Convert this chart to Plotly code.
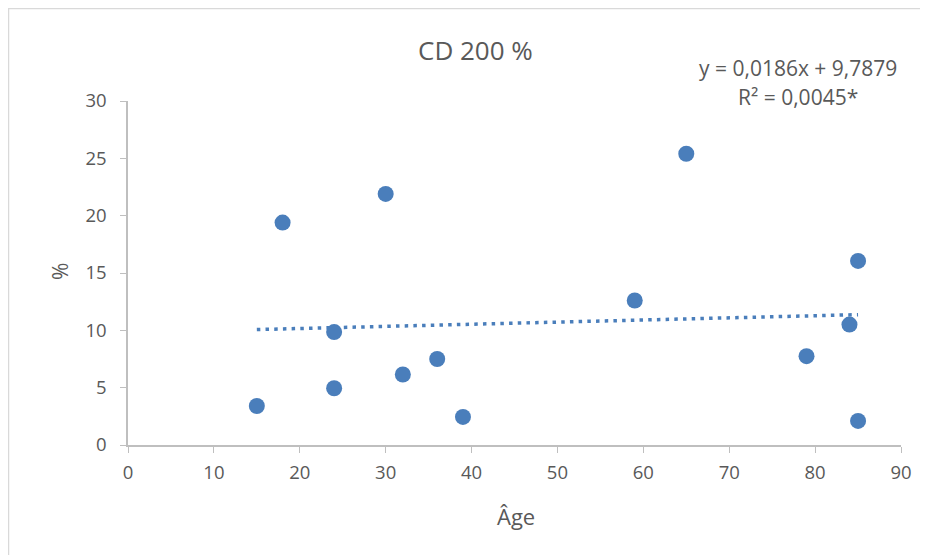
import plotly.graph_objects as go

ages = [15, 18, 24, 24, 30, 32, 36, 39, 59, 65, 79, 84, 85, 85]
pct = [3.4, 19.4, 9.85, 4.95, 21.9, 6.15, 7.5, 2.45, 12.6, 25.4, 7.75, 10.5, 16.05, 2.1]
slope = 0.0186
intercept = 9.7879
trend_x = [15, 85]
trend_y = [slope * x + intercept for x in trend_x]

x_ticks = list(range(0, 91, 10))
y_ticks = list(range(0, 31, 5))

FONT = "Open Sans"
GREY = "#595959"
BLUE = "#4a7ebb"

fig = go.Figure()
fig.add_trace(go.Scatter(x=trend_x, y=trend_y, mode="lines",
                         line=dict(color=BLUE, width=3.5, dash="3.5px,5.2px"),
                         hoverinfo="skip", showlegend=False))
fig.add_trace(go.Scatter(x=ages, y=pct, mode="markers",
                         marker=dict(color=BLUE, size=16, line=dict(width=0)),
                         showlegend=False))

W, H = 928, 555
OFF = 8  # page body margin
L, R, T, B = 128 - OFF, 35, 101 - OFF, 555 - (445 - OFF)
pw, ph = W - L - R, H - T - B

def px(xs):
    return (xs - OFF - L) / pw

def py(ys):
    return (H - B - (ys - OFF)) / ph

fig.update_layout(
    width=W, height=H,
    margin=dict(l=L, r=R, t=T, b=B),
    paper_bgcolor="white", plot_bgcolor="white",
    font=dict(family=FONT, color=GREY, size=18),
    xaxis=dict(range=[0, 90], tickvals=x_ticks, showgrid=False, zeroline=False,
               showline=True, linecolor="#bfbfbf", linewidth=1.5,
               ticks="outside", ticklen=6, tickcolor="#bfbfbf",
               ticklabelstandoff=4,
               tickfont=dict(size=18.5, color=GREY)),
    yaxis=dict(range=[0, 30], tickvals=y_ticks, showgrid=False, zeroline=False,
               showline=True, linecolor="#bfbfbf", linewidth=1.5,
               ticks="outside", ticklen=6, tickcolor="#bfbfbf",
               ticklabelstandoff=10,
               tickfont=dict(size=18.5, color=GREY)),
    shapes=[dict(type="rect", xref="paper", yref="paper",
                 x0=px(8.5), x1=px(1000), y0=py(700), y1=py(8.5),
                 line=dict(color="#d9d9d9", width=1.5), layer="below")],
    annotations=[
        dict(text="CD 200 %", xref="paper", yref="paper", x=px(475), y=py(50),
             showarrow=False, font=dict(size=26, color=GREY), xanchor="center", yanchor="middle"),
        dict(text="y = 0,0186x + 9,7879", xref="paper", yref="paper",
             x=px(798), y=py(68), showarrow=False,
             font=dict(size=21, color=GREY), xanchor="center", yanchor="middle"),
        dict(text="R² = 0,0045*", xref="paper", yref="paper",
             x=px(798), y=py(97), showarrow=False,
             font=dict(size=21, color=GREY), xanchor="center", yanchor="middle"),
        dict(text="Âge", xref="paper", yref="paper", x=px(516), y=py(516),
             showarrow=False, font=dict(size=22, color=GREY), xanchor="center", yanchor="middle"),
        dict(text="%", xref="paper", yref="paper", x=px(60), y=py(272), textangle=-90,
             showarrow=False, font=dict(size=21, color=GREY), xanchor="center", yanchor="middle"),
    ],
)

fig.write_html("out.html")
